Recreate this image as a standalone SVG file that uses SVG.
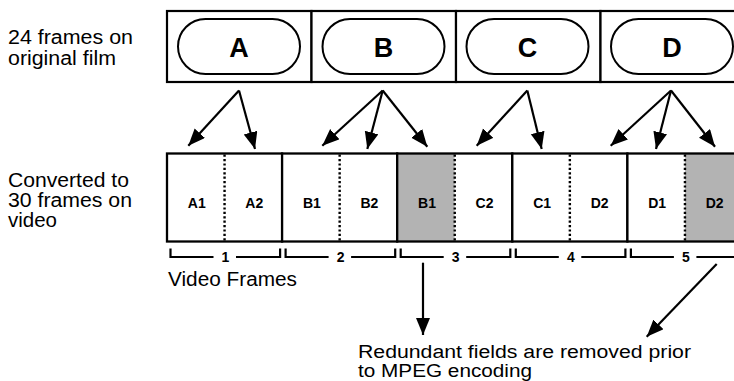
<svg xmlns="http://www.w3.org/2000/svg" width="734" height="381" viewBox="0 0 734 381">
  <defs>
    <style>
      .cell { fill: #ffffff; stroke: #000000; stroke-width: 2.2; }
      .pill { fill: #ffffff; stroke: #000000; stroke-width: 2; }
      .big { font-family: "Liberation Sans", Arial, sans-serif; font-weight: bold; font-size: 27px; text-anchor: middle; fill: #000000; }
      .field { stroke: none; }
      .plain { fill: #ffffff; }
      .shade { fill: #b3b3b3; }
      .frame { fill: none; stroke: #000000; stroke-width: 2.3; }
      .dots { stroke: #000000; stroke-width: 2.4; stroke-dasharray: 2.2 2.2; fill: none; }
      .flab { font-family: "Liberation Sans", Arial, sans-serif; font-weight: bold; font-size: 14px; text-anchor: middle; fill: #000000; }
      .brk { fill: none; stroke: #000000; stroke-width: 2.2; }
      .num { font-family: "Liberation Sans", Arial, sans-serif; font-weight: bold; font-size: 14px; text-anchor: middle; fill: #000000; }
      .note { font-family: "Liberation Sans", Arial, sans-serif; font-size: 20px; fill: #000000; }
      .foot { font-family: "Liberation Sans", Arial, sans-serif; font-size: 18px; fill: #000000; }
      .arrow { fill: none; stroke: #000000; stroke-width: 2.2; marker-end: url(#head); }
    </style>
    <marker id="head" markerUnits="userSpaceOnUse" markerWidth="18" markerHeight="15" refX="17" refY="7" orient="auto">
      <path d="M0,0 L17,7 L0,14 Z" fill="#000000"/>
    </marker>
  </defs>

  <rect width="734" height="381" fill="#ffffff"/>

  <!-- side captions -->
  <g id="caption-film">
    <text class="note" x="8" y="44.3" textLength="125" lengthAdjust="spacingAndGlyphs">24 frames on</text>
    <text class="note" x="8" y="64.5" textLength="108" lengthAdjust="spacingAndGlyphs">original film</text>
  </g>
  <g id="caption-video">
    <text class="note" x="8" y="186.7" textLength="121" lengthAdjust="spacingAndGlyphs">Converted to</text>
    <text class="note" x="8" y="206.7" textLength="124" lengthAdjust="spacingAndGlyphs">30 frames on</text>
    <text class="note" x="8" y="226.7" textLength="49" lengthAdjust="spacingAndGlyphs">video</text>
  </g>

  <!-- film frames -->
  <g id="film-A">
    <rect class="cell" x="167" y="11" width="144.5" height="71"/>
    <rect class="pill" x="178" y="19" width="122" height="55" rx="27.5"/>
    <text class="big" x="239" y="56.5">A</text>
  </g>
  <g id="film-B">
    <rect class="cell" x="311.5" y="11" width="144.5" height="71"/>
    <rect class="pill" x="322.5" y="19" width="122" height="55" rx="27.5"/>
    <text class="big" x="383.5" y="56.5">B</text>
  </g>
  <g id="film-C">
    <rect class="cell" x="456" y="11" width="144.5" height="71"/>
    <rect class="pill" x="466.5" y="19" width="122" height="55" rx="27.5"/>
    <text class="big" x="527.5" y="56.5">C</text>
  </g>
  <g id="film-D">
    <rect class="cell" x="600.5" y="11" width="144.5" height="71"/>
    <rect class="pill" x="611" y="19" width="122" height="55" rx="27.5"/>
    <text class="big" x="672" y="56.5">D</text>
  </g>

  <!-- video frames, two fields each -->
  <g id="video-1">
    <rect class="field plain" x="167" y="153.5" width="115.1" height="88"/>
    <rect class="frame" x="167" y="153.5" width="115.1" height="88"/>
    <line class="dots" x1="224.55" y1="154.6" x2="224.55" y2="240.4"/>
    <text class="flab" x="196.8" y="207.8">A1</text>
    <text class="flab" x="254.3" y="207.8">A2</text>
  </g>
  <g id="video-2">
    <rect class="field plain" x="282.1" y="153.5" width="115.1" height="88"/>
    <rect class="frame" x="282.1" y="153.5" width="115.1" height="88"/>
    <line class="dots" x1="339.65" y1="154.6" x2="339.65" y2="240.4"/>
    <text class="flab" x="311.9" y="207.8">B1</text>
    <text class="flab" x="369.4" y="207.8">B2</text>
  </g>
  <g id="video-3">
    <rect class="field shade" x="397.2" y="153.5" width="57.55" height="88"/>
    <rect class="field plain" x="454.75" y="153.5" width="57.55" height="88"/>
    <rect class="frame" x="397.2" y="153.5" width="115.1" height="88"/>
    <line class="dots" x1="454.75" y1="154.6" x2="454.75" y2="240.4"/>
    <text class="flab" x="427" y="207.8">B1</text>
    <text class="flab" x="484.5" y="207.8">C2</text>
  </g>
  <g id="video-4">
    <rect class="field plain" x="512.3" y="153.5" width="115.1" height="88"/>
    <rect class="frame" x="512.3" y="153.5" width="115.1" height="88"/>
    <line class="dots" x1="569.85" y1="154.6" x2="569.85" y2="240.4"/>
    <text class="flab" x="542.1" y="207.8">C1</text>
    <text class="flab" x="599.6" y="207.8">D2</text>
  </g>
  <g id="video-5">
    <rect class="field plain" x="627.4" y="153.5" width="57.55" height="88"/>
    <rect class="field shade" x="684.95" y="153.5" width="57.55" height="88"/>
    <rect class="frame" x="627.4" y="153.5" width="115.1" height="88"/>
    <line class="dots" x1="684.95" y1="154.6" x2="684.95" y2="240.4"/>
    <text class="flab" x="657.2" y="207.8">D1</text>
    <text class="flab" x="714.7" y="207.8">D2</text>
  </g>

  <!-- frame numbering brackets -->
  <g id="brackets">
    <path class="brk" d="M170.5,248.5 V257 H213.5 M236,257 H280.1 V248.5"/>
    <text class="num" x="225.5" y="262">1</text>
    <path class="brk" d="M285.6,248.5 V257 H328.6 M351.1,257 H395.2 V248.5"/>
    <text class="num" x="340.6" y="262">2</text>
    <path class="brk" d="M400.7,248.5 V257 H443.7 M466.2,257 H510.3 V248.5"/>
    <text class="num" x="455.7" y="262">3</text>
    <path class="brk" d="M515.8,248.5 V257 H558.8 M581.3,257 H625.4 V248.5"/>
    <text class="num" x="570.8" y="262">4</text>
    <path class="brk" d="M630.9,248.5 V257 H673.9 M696.4,257 H740.5 V248.5"/>
    <text class="num" x="685.9" y="262">5</text>
  </g>
  <g id="label-video-frames">
    <text class="note" x="168" y="286" textLength="129" lengthAdjust="spacingAndGlyphs">Video Frames</text>
  </g>

  <g id="label-redundant">
    <text class="foot" x="358" y="357.5" textLength="333" lengthAdjust="spacingAndGlyphs">Redundant fields are removed prior</text>
    <text class="foot" x="358" y="377.3" textLength="174" lengthAdjust="spacingAndGlyphs">to MPEG encoding</text>
  </g>

  <!-- connectors -->
  <g id="connectors">
    <line class="arrow" x1="239" y1="90.5" x2="188.3" y2="145.7"/>
    <line class="arrow" x1="239" y1="90.5" x2="255" y2="149"/>
    <line class="arrow" x1="382.7" y1="90.5" x2="322.3" y2="145.7"/>
    <line class="arrow" x1="382.7" y1="90.5" x2="367.3" y2="149"/>
    <line class="arrow" x1="382.7" y1="90.5" x2="427.3" y2="146.7"/>
    <line class="arrow" x1="527.3" y1="90.5" x2="476.7" y2="145.7"/>
    <line class="arrow" x1="527.3" y1="90.5" x2="541.7" y2="149"/>
    <line class="arrow" x1="671" y1="90.5" x2="610.7" y2="145.7"/>
    <line class="arrow" x1="671" y1="90.5" x2="656" y2="149"/>
    <line class="arrow" x1="671" y1="90.5" x2="715" y2="146.7"/>
    <line class="arrow" x1="423" y1="262.7" x2="423" y2="335"/>
    <line class="arrow" x1="716.7" y1="264" x2="646.7" y2="336.7"/>
  </g>
</svg>
